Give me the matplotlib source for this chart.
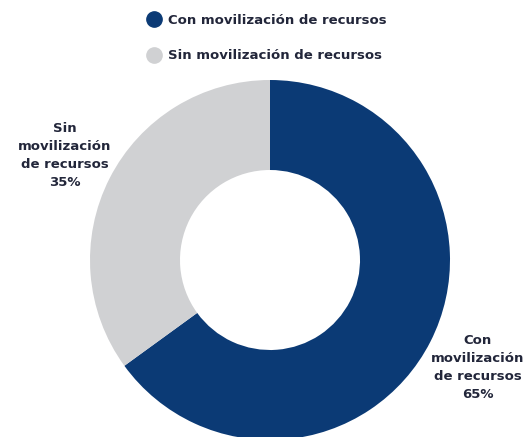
import matplotlib

matplotlib.use("Agg")
import matplotlib.pyplot as plt
from matplotlib.lines import Line2D

categories = ["Con movilización de recursos", "Sin movilización de recursos"]
values = [65, 35]
slice_labels = ["Con\nmovilización\nde recursos", "Sin\nmovilización\nde recursos"]
colors = ["#0b3a75", "#d0d1d3"]
text_color = "#22263a"

plt.rcParams["font.family"] = ["DejaVu Sans"]

W, H = 528, 437
fig = plt.figure(figsize=(W / 100, H / 100), dpi=100)

# donut centred at (270, 260) px, outer radius 180 px
cx, cy, r = 270, 260, 180
ax = fig.add_axes([(cx - r) / W, (H - cy - r) / H, 2 * r / W, 2 * r / H])
ax.pie(values, colors=colors, startangle=90, counterclock=False,
       radius=1, wedgeprops=dict(width=0.5, linewidth=0))
ax.set_xlim(-1, 1)
ax.set_ylim(-1, 1)
ax.set_aspect("equal")
ax.axis("off")

# slice labels, placed outside the ring
label_pos = [(478, 368), (65, 156)]
for lab, v, (px, py) in zip(slice_labels, values, label_pos):
    fig.text(px / W, 1 - py / H, f"{lab}\n{v}%", ha="center", va="center",
             fontsize=9.5, fontweight="bold", color=text_color, linespacing=1.5)

handles = [Line2D([], [], marker="o", linestyle="", markersize=11,
                  markerfacecolor=c, markeredgecolor=c) for c in colors]
fig.legend(handles, categories, loc="upper left", bbox_to_anchor=(136 / W, 1 - 2 / H),
           frameon=False, handletextpad=0.5, labelspacing=1.7, handlelength=1.0,
           prop=dict(size=9.5, weight="bold"), labelcolor=text_color)

fig.savefig("out.png", dpi=100)
